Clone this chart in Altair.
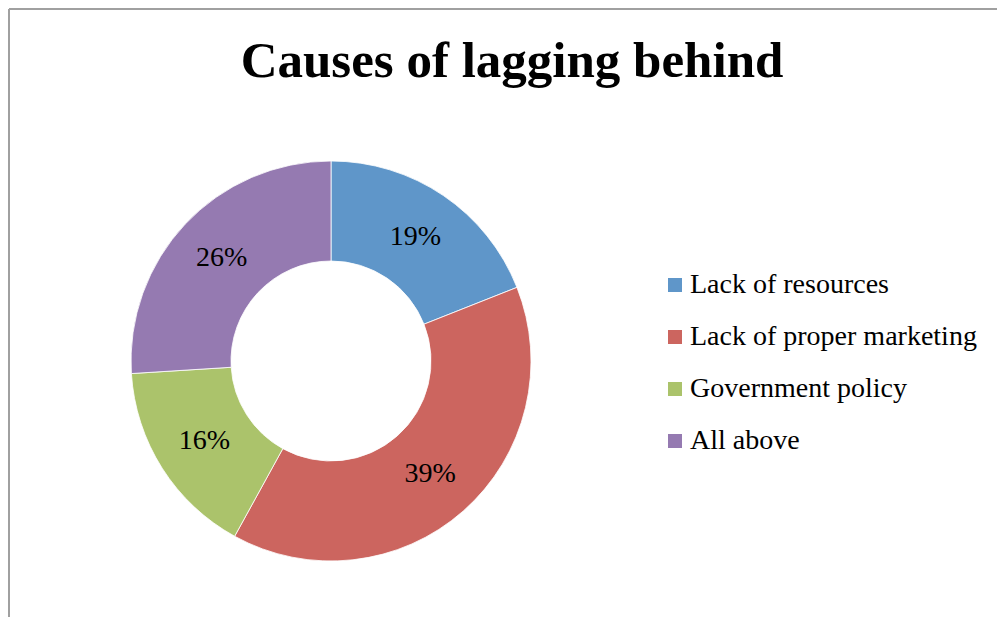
import altair as alt
import pandas as pd

title_text = "Causes of lagging behind"
categories = ["Lack of resources", "Lack of proper marketing", "Government policy", "All above"]
values = [19, 39, 16, 26]
labels = ["19%", "39%", "16%", "26%"]
colors = ["#5F96C9", "#CC655F", "#ABC36B", "#957AB1"]

df = pd.DataFrame({"cause": categories, "value": values, "label": labels, "idx": list(range(len(categories)))})

FONT = "Liberation Serif"
PAD_TOP = 100
W, H = 989, 509
CX, CY = 323, 253

base = alt.Chart(df).encode(
    theta=alt.Theta("value:Q", stack=True),
    order=alt.Order("idx:Q"),
)

arcs = base.mark_arc(outerRadius=200, innerRadius=100, stroke="white", strokeWidth=0.8).encode(
    color=alt.Color(
        "cause:N",
        scale=alt.Scale(domain=categories, range=colors),
        sort=categories,
        legend=alt.Legend(
            title=None,
            orient="none",
            legendX=653,
            legendY=163,
            symbolType="square",
            symbolSize=196,
            symbolStrokeWidth=0,
            labelFont=FONT,
            labelFontSize=28,
            labelColor="black",
            labelOffset=1,
            rowPadding=24,
            labelLimit=400,
        ),
    ),
    x=alt.value(CX),
    y=alt.value(CY),
)

text = base.mark_text(radius=150, font=FONT, fontSize=28, color="black").encode(
    text="label:N",
    x=alt.value(CX),
    y=alt.value(CY),
)

frame = pd.DataFrame({"t": [title_text]})
title = alt.Chart(frame).mark_text(
    font=FONT, fontSize=51, fontWeight="bold", color="black", align="center", baseline="alphabetic"
).encode(text="t:N", x=alt.value(504), y=alt.value(-31))

left_border = alt.Chart(frame).mark_rule(color="#A0A0A0", strokeWidth=2).encode(
    x=alt.value(1), y=alt.value(1 - PAD_TOP), y2=alt.value(H)
)
top_border = alt.Chart(frame).mark_rule(color="#A0A0A0", strokeWidth=2).encode(
    x=alt.value(1), x2=alt.value(W), y=alt.value(1 - PAD_TOP)
)

chart = alt.layer(arcs, text, title, left_border, top_border).properties(
    width=W,
    height=H,
    autosize=alt.AutoSizeParams(type="none"),
    padding={"left": 0, "top": PAD_TOP, "right": 0, "bottom": 0},
).configure_view(stroke=None)

chart.save("out.html", embed_options={"renderer": "svg", "actions": False})
